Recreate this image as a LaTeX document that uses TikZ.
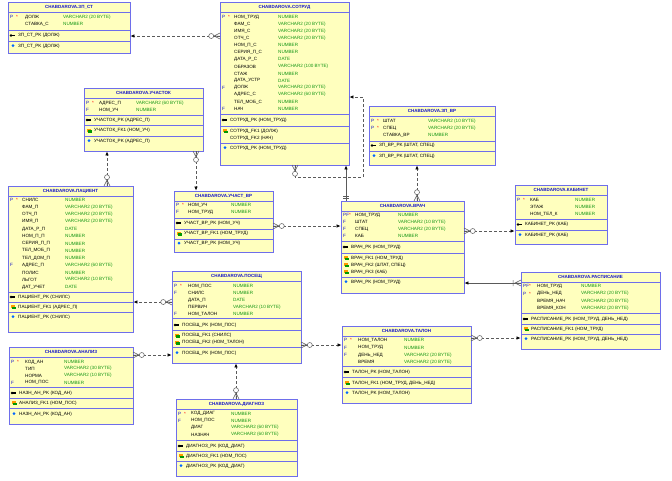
\documentclass[tikz,border=0pt]{standalone}
\usepackage{fontspec}
\setmainfont{Liberation Sans}
\usetikzlibrary{fit,arrows.meta}
\definecolor{bd}{RGB}{110,110,235}
\definecolor{fl}{RGB}{255,255,190}
\definecolor{tg}{RGB}{20,150,20}
\definecolor{tb}{RGB}{20,20,200}
\definecolor{ln}{RGB}{90,90,90}
\tikzset{
 ebox/.style={draw=bd,fill=fl,line width=0.9pt,inner sep=0pt},
 txt/.style={anchor=west,inner sep=0pt,font=\fontsize{4.6}{5}\selectfont},
 typ/.style={text=tg},
 keyc/.style={text=tb},
 ttl/.style={inner sep=0pt,font=\fontsize{4.5}{5}\selectfont\bfseries,text=tb},
 dv/.style={draw=bd,line width=0.7pt},
 rel/.style={draw=ln,dashed,dash pattern=on 3pt off 2pt,line width=0.6pt,-{Latex[length=4pt,width=3.5pt,black]}},
 srel/.style={draw=ln,line width=0.6pt,-{Latex[length=4pt,width=3.5pt,black]}},
 cfs/.style={draw=ln,line width=0.5pt}
}
\newcommand\ent[6]{\node[ebox,fit={(#2,#3)(#4,#5)}](#1){};
 \node[ttl] at ({(#2+#4)/2},{#3+5.3}) {#6};
 \draw[dv] (#2,{#3+10.5}) -- (#4,{#3+10.5});
 \def\bx{#2}\def\bxr{#4}}
\newcommand\dvl[1]{\draw[dv] (\bx,#1) -- (\bxr,#1);}
\newcommand\row[5]{\node[txt,keyc] at ({\bx+2},#1){#2};\node[txt,text=red] at ({\bx+8},#1){#3};
 \node[txt] at (\nx,#1){#4};\node[txt,typ] at (\tx,#1){#5};}
\newcommand\pkr[2]{\fill[black] ({\bx+3},{#1-0.8}) rectangle ({\bx+7},{#1+0.8});\fill[black] ({\bx+3},#1) circle (1.3pt);
 \node[txt] at ({\bx+10},#1){#2};}
\newcommand\fkr[2]{\fill[orange!80!yellow] ({\bx+2.5},{#1-2}) rectangle ({\bx+7},{#1+1});\fill[green!60!black] ({\bx+4},{#1-0.5}) rectangle ({\bx+7.5},{#1+2.2});
 \node[txt] at ({\bx+10},#1){#2};}
\newcommand\ixr[2]{\fill[blue!60!cyan] ({\bx+5},{#1-0.3}) circle (1.5pt);
 \node[txt] at ({\bx+10},#1){#2};}
\newcommand\cf[3]{\begin{scope}[shift={(#1,#2)},rotate=#3]
 \draw[cfs] (0,3)--(6,0)--(0,-3) (0,0)--(6,0); \draw[cfs,fill=white] (8.8,0) circle (2.5pt);\end{scope}}
\newcommand\cb[3]{\begin{scope}[shift={(#1,#2)},rotate=#3]
 \draw[cfs] (0,3)--(6,0)--(0,-3) (0,0)--(6,0) (8,3)--(8,-3);\end{scope}}
\begin{document}
\begin{tikzpicture}[x=1pt,y=-1pt]
\useasboundingbox[fill=white] (0,0) rectangle (672,480);
% ZP_ST
\ent{zpst}{8}{2}{130}{53}{CHABDAROVA.ЗП\_СТ}\def\nx{25}\def\tx{63}
\row{17}{P}{*}{ДОЛЖ}{VARCHAR2 (20 BYTE)}
\row{24}{}{}{СТАВКА\_С}{NUMBER}
\dvl{30}\pkr{35.5}{ЗП\_СТ\_PK (ДОЛЖ)}\dvl{41}\ixr{46}{ЗП\_СТ\_PK (ДОЛЖ)}
% SOTRUD
\ent{sotrud}{220}{2}{349}{165}{CHABDAROVA.СОТРУД}\def\nx{234}\def\tx{278}
\row{17}{P}{*}{НОМ\_ТРУД}{NUMBER}
\row{24.1}{}{}{ФАМ\_С}{VARCHAR2 (20 BYTE)}
\row{31.1}{}{}{ИМЯ\_С}{VARCHAR2 (20 BYTE)}
\row{38.2}{}{}{ОТЧ\_С}{VARCHAR2 (20 BYTE)}
\row{45.3}{}{}{НОМ\_П\_С}{NUMBER}
\row{52.4}{}{}{СЕРИЯ\_П\_С}{NUMBER}
\row{59.4}{}{}{ДАТА\_Р\_С}{DATE}
\row{66.5}{}{}{ОБРАЗОВ}{VARCHAR2 (100 BYTE)}
\row{73.6}{}{}{СТАЖ}{NUMBER}
\row{80.6}{}{}{ДАТА\_УСТР}{DATE}
\row{87.7}{F}{}{ДОЛЖ}{VARCHAR2 (20 BYTE)}
\row{94.8}{}{}{АДРЕС\_С}{VARCHAR2 (60 BYTE)}
\row{101.9}{}{}{ТЕЛ\_МОБ\_С}{NUMBER}
\row{109}{F}{}{НАЧ}{NUMBER}
\dvl{114}\pkr{120}{СОТРУД\_PK (НОМ\_ТРУД)}\dvl{126}
\fkr{131}{СОТРУД\_FK1 (ДОЛЖ)}\node[txt] at (230,138){СОТРУД\_FK2 (НАЧ)};\dvl{143}
\ixr{148}{СОТРУД\_PK (НОМ\_ТРУД)}
% UCHASTOK
\ent{uch}{84}{88}{203}{151}{CHABDAROVA.УЧАСТОК}\def\nx{99}\def\tx{136}
\row{103}{P}{*}{АДРЕС\_П}{VARCHAR2 (60 BYTE)}
\row{110}{F}{}{НОМ\_УЧ}{NUMBER}
\dvl{115}\pkr{120}{УЧАСТОК\_PK (АДРЕС\_П)}\dvl{125}\fkr{130.5}{УЧАСТОК\_FK1 (НОМ\_УЧ)}\dvl{136}\ixr{141}{УЧАСТОК\_PK (АДРЕС\_П)}
% ZP_VR
\ent{zpvr}{369}{106}{495}{165}{CHABDAROVA.ЗП\_ВР}\def\nx{383}\def\tx{428}
\row{121}{P}{*}{ШТАТ}{VARCHAR2 (10 BYTE)}
\row{128}{P}{*}{СПЕЦ}{VARCHAR2 (20 BYTE)}
\row{135}{}{}{СТАВКА\_ВР}{NUMBER}
\dvl{141}\pkr{145.5}{ЗП\_ВР\_PK (ШТАТ, СПЕЦ)}\dvl{151}\ixr{156}{ЗП\_ВР\_PK (ШТАТ, СПЕЦ)}
% VRACH
\ent{vrach}{341}{201}{464}{293}{CHABDAROVA.ВРАЧ}\def\nx{355}\def\tx{398}
\row{215}{PF}{*}{НОМ\_ТРУД}{NUMBER}
\row{222}{F}{}{ШТАТ}{VARCHAR2 (10 BYTE)}
\row{229}{F}{}{СПЕЦ}{VARCHAR2 (20 BYTE)}
\row{236}{F}{}{КАБ}{NUMBER}
\dvl{241}\pkr{247}{ВРАЧ\_PK (НОМ\_ТРУД)}\dvl{253}
\fkr{258}{ВРАЧ\_FK1 (НОМ\_ТРУД)}\fkr{265}{ВРАЧ\_FK2 (ШТАТ, СПЕЦ)}\fkr{272}{ВРАЧ\_FK3 (КАБ)}\dvl{277}
\ixr{282}{ВРАЧ\_PK (НОМ\_ТРУД)}
% KABINET
\ent{kab}{515}{185}{607}{244}{CHABDAROVA.КАБИНЕТ}\def\nx{530}\def\tx{575}
\row{200}{P}{*}{КАБ}{NUMBER}
\row{207}{}{}{ЭТАЖ}{NUMBER}
\row{214}{}{}{НОМ\_ТЕЛ\_К}{NUMBER}
\dvl{219}\pkr{224.5}{КАБИНЕТ\_PK (КАБ)}\dvl{230}\ixr{235}{КАБИНЕТ\_PK (КАБ)}
% RASPISANIE
\ent{rasp}{521}{272}{660}{349}{CHABDAROVA.РАСПИСАНИЕ}\def\nx{537}\def\tx{581}
\row{286}{PF}{*}{НОМ\_ТРУД}{NUMBER}
\row{293.5}{P}{*}{ДЕНЬ\_НЕД}{VARCHAR2 (20 BYTE)}
\row{301}{}{}{ВРЕМЯ\_НАЧ}{VARCHAR2 (20 BYTE)}
\row{308}{}{}{ВРЕМЯ\_КОН}{VARCHAR2 (20 BYTE)}
\dvl{313}\pkr{319}{РАСПИСАНИЕ\_PK (НОМ\_ТРУД, ДЕНЬ\_НЕД)}\dvl{324}\fkr{329}{РАСПИСАНИЕ\_FK1 (НОМ\_ТРУД)}\dvl{334}\ixr{339}{РАСПИСАНИЕ\_PK (НОМ\_ТРУД, ДЕНЬ\_НЕД)}
% TALON
\ent{talon}{342}{326}{471}{403}{CHABDAROVA.ТАЛОН}\def\nx{358}\def\tx{404}
\row{340}{P}{*}{НОМ\_ТАЛОН}{NUMBER}
\row{347.5}{F}{}{НОМ\_ТРУД}{NUMBER}
\row{355}{F}{}{ДЕНЬ\_НЕД}{VARCHAR2 (20 BYTE)}
\row{362}{}{}{ВРЕМЯ}{VARCHAR2 (20 BYTE)}
\dvl{366}\pkr{372}{ТАЛОН\_PK (НОМ\_ТАЛОН)}\dvl{377}\fkr{383}{ТАЛОН\_FK1 (НОМ\_ТРУД, ДЕНЬ\_НЕД)}\dvl{388}\ixr{393}{ТАЛОН\_PK (НОМ\_ТАЛОН)}
% PACIENT
\ent{pac}{8}{186}{133}{332}{CHABDAROVA.ПАЦИЕНТ}\def\nx{22}\def\tx{65}
\row{200}{P}{*}{СНИЛС}{NUMBER}
\row{207.3}{}{}{ФАМ\_П}{VARCHAR2 (20 BYTE)}
\row{214.5}{}{}{ОТЧ\_П}{VARCHAR2 (20 BYTE)}
\row{221.8}{}{}{ИМЯ\_П}{VARCHAR2 (20 BYTE)}
\row{229}{}{}{ДАТА\_Р\_П}{DATE}
\row{236.3}{}{}{НОМ\_П\_П}{NUMBER}
\row{243.5}{}{}{СЕРИЯ\_П\_П}{NUMBER}
\row{250.8}{}{}{ТЕЛ\_МОБ\_П}{NUMBER}
\row{258}{}{}{ТЕЛ\_ДОМ\_П}{NUMBER}
\row{265.3}{F}{}{АДРЕС\_П}{VARCHAR2 (60 BYTE)}
\row{272.5}{}{}{ПОЛИС}{NUMBER}
\row{279.8}{}{}{ЛЬГОТ}{VARCHAR2 (10 BYTE)}
\row{287}{}{}{ДАТ\_УЧЕТ}{DATE}
\dvl{292}\pkr{297}{ПАЦИЕНТ\_PK (СНИЛС)}\dvl{302}\fkr{307}{ПАЦИЕНТ\_FK1 (АДРЕС\_П)}\dvl{312}\ixr{317}{ПАЦИЕНТ\_PK (СНИЛС)}
% UCHAST_VR
\ent{uchvr}{174}{191}{273}{252}{CHABDAROVA.УЧАСТ\_ВР}\def\nx{188}\def\tx{231}
\row{205}{P}{*}{НОМ\_УЧ}{NUMBER}
\row{212}{F}{}{НОМ\_ТРУД}{NUMBER}
\dvl{218}\pkr{223}{УЧАСТ\_ВР\_PK (НОМ\_УЧ)}\dvl{229}\fkr{233.5}{УЧАСТ\_ВР\_FK1 (НОМ\_ТРУД)}\dvl{239}\ixr{243.5}{УЧАСТ\_ВР\_PK (НОМ\_УЧ)}
% POSESCH
\ent{pos}{172}{271}{301}{363}{CHABDAROVA.ПОСЕЩ}\def\nx{188}\def\tx{233}
\row{286}{P}{*}{НОМ\_ПОС}{NUMBER}
\row{293}{F}{}{СНИЛС}{NUMBER}
\row{300}{}{}{ДАТА\_П}{DATE}
\row{307}{}{}{ПЕРВИЧ}{VARCHAR2 (10 BYTE)}
\row{314}{F}{}{НОМ\_ТАЛОН}{NUMBER}
\dvl{318}\pkr{325}{ПОСЕЩ\_PK (НОМ\_ПОС)}\dvl{330}\fkr{335.5}{ПОСЕЩ\_FK1 (СНИЛС)}\fkr{342.5}{ПОСЕЩ\_FK2 (НОМ\_ТАЛОН)}\dvl{347}\ixr{353}{ПОСЕЩ\_PK (НОМ\_ПОС)}
% ANALIZ
\ent{anal}{9}{347}{133}{424}{CHABDAROVA.АНАЛИЗ}\def\nx{25}\def\tx{64}
\row{362}{P}{*}{КОД\_АН}{NUMBER}
\row{368.5}{}{}{ТИП}{VARCHAR2 (30 BYTE)}
\row{375.5}{}{}{НОРМА}{VARCHAR2 (10 BYTE)}
\row{382.5}{F}{}{НОМ\_ПОС}{NUMBER}
\dvl{387}\pkr{393}{НАЗН\_АН\_PK (КОД\_АН)}\dvl{398}\fkr{403}{АНАЛИЗ\_FK1 (НОМ\_ПОС)}\dvl{408}\ixr{414}{НАЗН\_АН\_PK (КОД\_АН)}
% DIAGNOZ
\ent{diag}{176}{399}{297}{476}{CHABDAROVA.ДИАГНОЗ}\def\nx{191}\def\tx{231}
\row{413.5}{P}{*}{КОД\_ДИАГ}{NUMBER}
\row{420.5}{F}{}{НОМ\_ПОС}{NUMBER}
\row{427.5}{}{}{ДИАГ}{VARCHAR2 (60 BYTE)}
\row{434.5}{}{}{НАЗНАЧ}{VARCHAR2 (60 BYTE)}
\dvl{440}\pkr{446}{ДИАГНОЗ\_PK (КОД\_ДИАГ)}\dvl{451}\fkr{456}{ДИАГНОЗ\_FK1 (НОМ\_ПОС)}\dvl{461}\ixr{466}{ДИАГНОЗ\_PK (КОД\_ДИАГ)}
% connectors
\draw[rel] (sotrud.west |- 0,36) -- (zpst.east |- 0,36); \cf{220}{36}{180}
\draw[rel] (sotrud.south -| 295,0) -- (295,177) -- (363,177) -- (363,97) -- (sotrud.east |- 0,97); \cf{295}{165}{270}
\draw[srel] (vrach.north -| 346,0) -- (sotrud.south -| 346,0); \draw[cfs] (343,196)--(349,196) (343,198.5)--(349,198.5);
\draw[rel] (pac.north -| 107,0) -- (uch.south -| 107,0); \cf{107}{186}{90}
\draw[rel] (uch.south -| 196,0) -- (uchvr.north -| 196,0); \cf{196}{151}{270}
\draw[rel] (uchvr.east |- 0,226) -- (vrach.west |- 0,226); \cf{273}{226}{0}
\draw[rel] (vrach.east |- 0,231) -- (kab.west |- 0,231); \cf{464}{231}{0}
\draw[rel] (vrach.north -| 417,0) -- (zpvr.south -| 417,0); \cf{417}{201}{90}
\draw[srel] (rasp.west |- 0,283) -- (vrach.east |- 0,283); \cb{521}{283}{180}
\draw[rel] (pos.west |- 0,302) -- (pac.east |- 0,302); \cf{172}{302}{180}
\draw[rel] (anal.east |- 0,355) -- (pos.west |- 0,355); \cf{133}{355}{0}
\draw[rel] (pos.east |- 0,345) -- (talon.west |- 0,345); \cf{301}{345}{0}
\draw[rel] (diag.north -| 236,0) -- (pos.south -| 236,0); \cf{236}{399}{90}
\draw[rel] (talon.east |- 0,338) -- (rasp.west |- 0,338); \cf{471}{338}{0}
\end{tikzpicture}
\end{document}
